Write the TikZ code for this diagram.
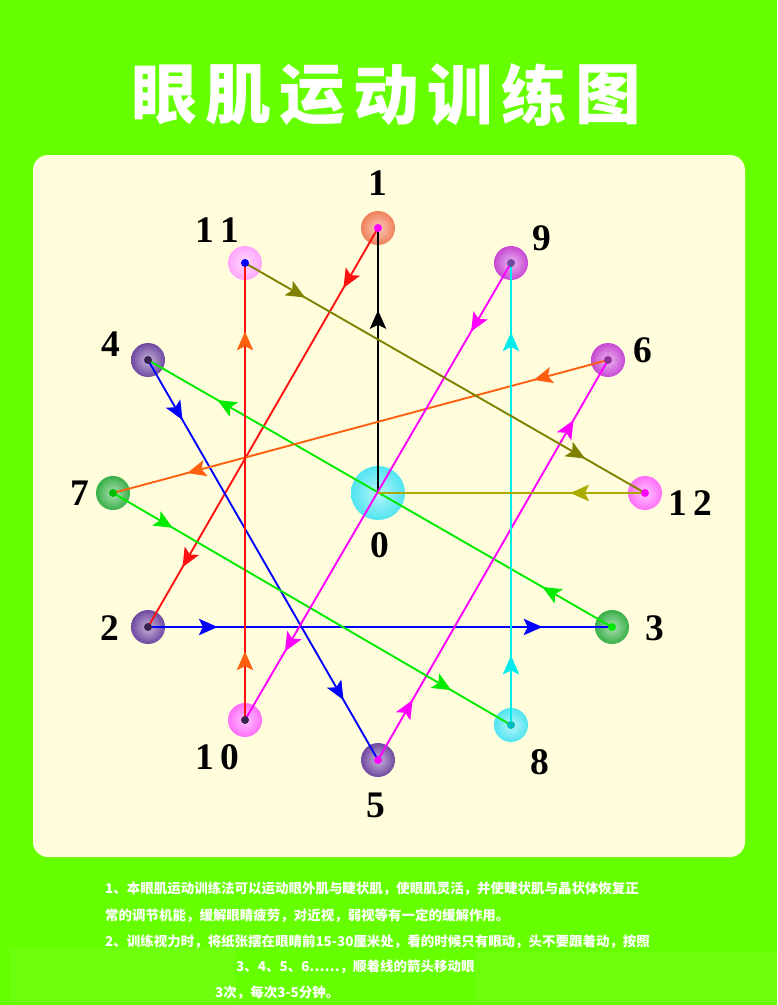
\documentclass[tikz,border=0pt]{standalone}
\usepackage{fontspec}
\setmainfont{Liberation Serif}
\newfontfamily\cjk{Noto Sans CJK SC}
\usetikzlibrary{arrows.meta,decorations.markings}

\definecolor{bggreen}{RGB}{102,255,0}
\definecolor{panel}{RGB}{255,253,220}
\definecolor{salmon}{RGB}{240,128,90}
\definecolor{violet}{RGB}{112,72,160}
\definecolor{leaf}{RGB}{56,176,72}
\definecolor{orchid}{RGB}{200,72,212}
\definecolor{rose}{RGB}{255,110,250}
\definecolor{palerose}{RGB}{255,165,252}
\definecolor{aqua}{RGB}{80,228,240}
\definecolor{linered}{RGB}{255,16,16}
\definecolor{lineblue}{RGB}{0,0,255}
\definecolor{linemagenta}{RGB}{255,0,255}
\definecolor{lineorange}{RGB}{255,96,16}
\definecolor{lineolive}{RGB}{128,128,0}
\definecolor{linemustard}{RGB}{170,170,0}
\definecolor{linegreen}{RGB}{0,235,0}
\definecolor{linecyan}{RGB}{0,235,235}

\tikzset{
  ball/.style={shape=circle,minimum size=1.02cm,inner sep=0pt,inner color=#1!40,outer color=#1},
  pip/.style={shape=circle,fill=#1,minimum size=0.24cm,inner sep=0pt},
  num/.style={font=\fontsize{32}{32}\selectfont\bfseries,inner sep=0pt},
  track/.style={line width=1.6pt},
  twoarr/.style={postaction={decorate,decoration={markings,
      mark=at position .15 with {\arrow[#1]{>}},
      mark=at position .85 with {\arrow[#1]{>}}}}},
  twoarr/.default={},
  onearr/.style={postaction={decorate,decoration={markings,
      mark=at position #1 with {\arrow{>}}}}},
}

\begin{document}
\begin{tikzpicture}[x=0.03cm,y=-0.03cm,>={Stealth[length=16pt,width=14pt,inset=3.5pt]}]
  \fill[bggreen] (0,0) rectangle (777,1005);
  \fill[panel,rounded corners=0.45cm] (33,155) rectangle (745,857);
  \useasboundingbox (0,0) rectangle (777,1005);

  % title
  \foreach \c [count=\i] in {眼,肌,运,动,训,练,图}
    \node[text=white,font=\cjk\bfseries\fontsize{56}{56}\selectfont,inner sep=0pt] (t\i) at (90+74*\i,95) {\c};

  % balls
  \node[ball=aqua,minimum size=1.62cm] (n0) at (378,493) {};
  \node[ball=salmon] (n1) at (378,228) {};
  \node[ball=violet] (n2) at (148,627) {};
  \node[ball=leaf] (n3) at (612,627) {};
  \node[ball=violet] (n4) at (148,360) {};
  \node[ball=violet] (n5) at (378,760) {};
  \node[ball=orchid] (n6) at (608,360) {};
  \node[ball=leaf] (n7) at (113,493) {};
  \node[ball=aqua] (n8) at (511,725) {};
  \node[ball=orchid] (n9) at (511,263) {};
  \node[ball=rose] (n10) at (245,720) {};
  \node[ball=palerose] (n11) at (245,263) {};
  \node[ball=rose] (n12) at (645,493) {};

  % the route
  \draw[track,black,onearr=.69] (n0.center) -- (n1.center);
  \draw[track,linered,twoarr] (n1.center) -- (n2.center);
  \draw[track,lineblue,twoarr] (n2.center) -- (n3.center);
  \draw[track,linegreen,twoarr] (n3.center) -- (n4.center);
  \draw[track,lineblue,twoarr] (n4.center) -- (n5.center);
  \draw[track,linemagenta,twoarr] (n5.center) -- (n6.center);
  \draw[track,lineorange,twoarr] (n6.center) -- (n7.center);
  \draw[track,linegreen,twoarr] (n7.center) -- (n8.center);
  \draw[track,linecyan,twoarr] (n8.center) -- (n9.center);
  \draw[track,linemagenta,twoarr] (n9.center) -- (n10.center);
  \draw[track,linered,twoarr=lineorange] (n10.center) -- (n11.center);
  \draw[track,lineolive,twoarr] (n11.center) -- (n12.center);
  \draw[track,linemustard,onearr=.28] (n12.center) -- (n0.center);

  % dots
  \node[pip=linemagenta] (d1) at (n1) {};
  \node[pip=violet!50!black] (d2) at (n2) {};
  \node[pip=linegreen] (d3) at (n3) {};
  \node[pip=violet!50!black] (d4) at (n4) {};
  \node[pip=linemagenta] (d5) at (n5) {};
  \node[pip=orchid!70!black] (d6) at (n6) {};
  \node[pip=linegreen!80!black] (d7) at (n7) {};
  \node[pip=linecyan!80!black] (d8) at (n8) {};
  \node[pip=violet] (d9) at (n9) {};
  \node[pip=violet!50!black] (d10) at (n10) {};
  \node[pip=lineblue] (d11) at (n11) {};
  \node[pip=linemagenta] (d12) at (n12) {};

  % numbers
  \node[num] (l0) at (380,545) {0};
  \node[num] (l1) at (378,183) {1};
  \node[num] (l2) at (110,628) {2};
  \node[num] (l3) at (655,628) {3};
  \node[num] (l4) at (111,344) {4};
  \node[num] (l5) at (376,805) {5};
  \node[num] (l6) at (643,350) {6};
  \node[num] (l7) at (80,493) {7};
  \node[num] (l8) at (540,762) {8};
  \node[num] (l9) at (542,238) {9};
  \node[num] (l10) at (217,757) {1\,0};
  \node[num] (l11) at (217,230) {1\,1};
  \node[num] (l12) at (690,503) {1\,2};

  % notes
  \fill[white,opacity=.05] (10,948) rectangle (235,1002);
  \fill[white,opacity=.05] (475,952) rectangle (777,1002);
  \tikzset{note/.style={anchor=west,text=white,inner sep=0pt,font=\cjk\bfseries\fontsize{11.5}{11.5}\selectfont}}
  \node[note] (s1) at (105,889) {1、本眼肌运动训练法可以运动眼外肌与睫状肌，使眼肌灵活，并使睫状肌与晶状体恢复正};
  \node[note] (s2) at (105,916) {常的调节机能，缓解眼睛疲劳，对近视，弱视等有一定的缓解作用。};
  \node[note] (s3) at (105,942) {2、训练视力时，将纸张摆在眼睛前15-30厘米处，看的时候只有眼动，头不要跟着动，按照};
  \node[note] (s4) at (236,967) {3、4、5、6……，顺着线的箭头移动眼};
  \node[note] (s5) at (215,993) {3次，每次3-5分钟。};
\end{tikzpicture}
\end{document}
